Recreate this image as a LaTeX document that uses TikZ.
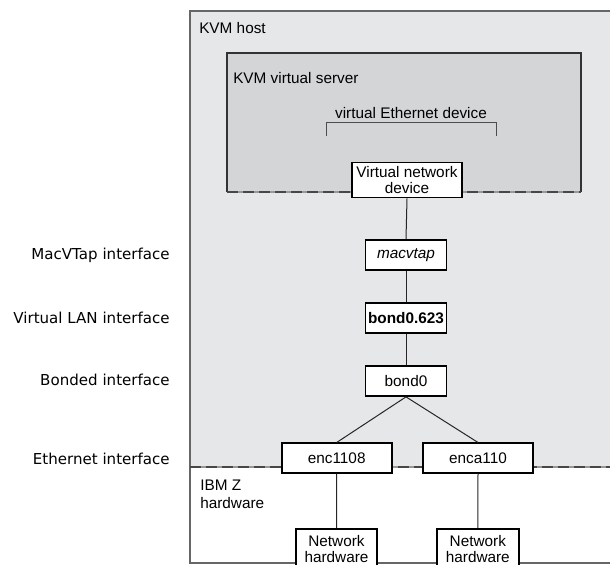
\documentclass[tikz,border=0pt]{standalone}
\usepackage{fontspec}
\setmainfont{Liberation Sans}
\newfontfamily\sidefont{DejaVu Sans}
\definecolor{hostgray}{HTML}{E6E7E8}
\definecolor{vsgray}{HTML}{D4D5D7}
\definecolor{edgegray}{HTML}{555555}
\begin{document}
\begin{tikzpicture}[x=0.75pt,y=-0.75pt,
  boxfont/.style={font=\fontsize{11.5}{12.5}\selectfont},
  box/.style={draw=black, line width=1.3pt, fill=white, inner sep=0pt, align=center, boxfont},
  conn/.style={draw=black!85, line width=0.75pt},
  sidelabel/.style={anchor=base east, inner sep=0pt, font=\sidefont\fontsize{11.3}{13}\selectfont},
  plainlabel/.style={inner sep=0pt, boxfont},
  hostline/.style={draw=edgegray!90, line width=1.2pt},
  vsline/.style={draw=black!80, line width=1.7pt},
  dashbase/.style={draw=black!40, line width=1.3pt},
  dashtop/.style={draw=black!72, line width=1.8pt, dash pattern=on 8pt off 4pt}
]
\clip (0,0) rectangle (610,564);
% KVM host region
\fill[hostgray] (190,11) rectangle (620,467);
\draw[hostline] (620,11) -- (190,11) -- (190,563) -- (620,563);
% KVM virtual server
\fill[vsgray] (227,53) rectangle (581,192);
\draw[vsline] (227,192) -- (227,53) -- (581,53) -- (581,192);
\draw[dashbase] (227,192) -- (581,192);
\draw[dashtop] (227,192) -- (581,192);
% host / hardware boundary
\draw[dashbase] (190,467) -- (620,467);
\draw[dashtop] (190,467) -- (620,467);

% titles
\node[plainlabel, anchor=base west] (hosttitle) at (199,33) {KVM host};
\node[plainlabel, anchor=base west] (vstitle) at (233,83.3) {KVM virtual server};
\node[plainlabel, anchor=base] (vetitle) at (411,118.3) {virtual Ethernet device};
\node[plainlabel, anchor=base west] (hwtitle1) at (200,490.7) {IBM Z};
\node[plainlabel, anchor=base west] (hwtitle2) at (200,508.3) {hardware};
\draw[draw=black!70, line width=0.8pt] (326.7,136) -- (326.7,122.7) -- (496.3,122.7) -- (496.3,136);

% side labels
\node[sidelabel] (lmac) at (170,259.3) {MacVTap interface};
\node[sidelabel] (lvlan) at (170,323.3) {Virtual LAN interface};
\node[sidelabel] (lbond) at (170,385) {Bonded interface};
\node[sidelabel] (leth) at (170,464) {Ethernet interface};

% boxes
\node[box, minimum width=82.5pt, minimum height=26.25pt] (vnd) at (407,180) {Virtual network\\device};
\node[box, minimum width=60.75pt, minimum height=22.5pt] (mac) at (406,255) {\itshape macvtap};
\node[box, minimum width=60.75pt, minimum height=22.5pt] (vlan) at (406,318) {\bfseries bond0.623};
\node[box, minimum width=60.75pt, minimum height=22.5pt] (bond) at (406,381) {bond0};
\node[box, minimum width=82.5pt, minimum height=22pt] (enc1) at (336.7,458) {enc1108};
\node[box, minimum width=83pt, minimum height=22pt] (enc2) at (478,458) {enca110};
\node[box, minimum width=61.2pt, minimum height=30pt] (nh1) at (336.5,549) {Network\\hardware};
\node[box, minimum width=61.5pt, minimum height=30pt] (nh2) at (477.8,549) {Network\\hardware};

% connectors
\draw[conn] (vnd.south) -- (mac.north);
\draw[conn] (mac.south) -- (vlan.north);
\draw[conn] (vlan.south) -- (bond.north);
\draw[conn] (bond.south) -- (enc1.north);
\draw[conn] (bond.south) -- (enc2.north);
\draw[conn] (enc1.south) -- (nh1.north);
\draw[conn] (enc2.south) -- (nh2.north);
\end{tikzpicture}
\end{document}
